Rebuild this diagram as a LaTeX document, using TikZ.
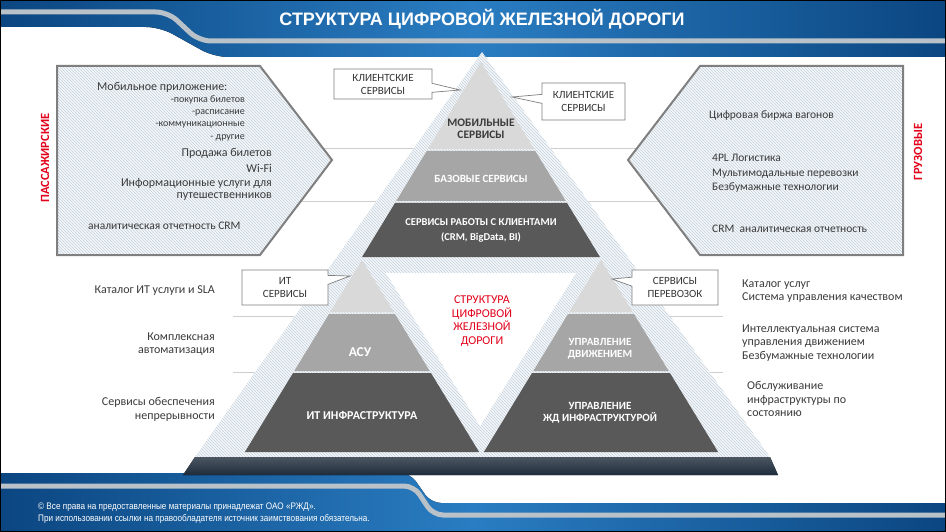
\documentclass[tikz,border=0pt]{standalone}
\usepackage{fontspec}
\setmainfont{Carlito}
\newfontfamily\titlefont{Liberation Sans}
\usetikzlibrary{patterns,shapes.callouts,positioning}

\definecolor{bandedge}{HTML}{0B4681}
\definecolor{bandmid}{HTML}{2A7DC2}
\definecolor{silver}{HTML}{B9C1C9}
\definecolor{tierlight}{HTML}{D9D9D9}
\definecolor{tiermid}{HTML}{A6A6A6}
\definecolor{tierdark}{HTML}{595959}
\definecolor{navy}{HTML}{1E2C3B}
\definecolor{hatchline}{HTML}{C3D0DD}
\definecolor{hatchbg}{HTML}{F6F8FA}
\definecolor{rulegrey}{HTML}{CFCFCF}
\definecolor{framegrey}{HTML}{7F7F7F}
\definecolor{inkgrey}{HTML}{3B3B3B}
\definecolor{tagred}{HTML}{E2001A}

\tikzset{
  hatched/.style = {preaction={fill=hatchbg},pattern=north west lines,pattern color=hatchline},
  body/.style    = {inner sep=0pt,text=inkgrey,font=\fontsize{12}{14}\selectfont},
  small/.style   = {inner sep=0pt,text=inkgrey,font=\fontsize{10}{12}\selectfont},
  side/.style    = {inner sep=0pt,text=inkgrey,font=\fontsize{12}{13.5}\selectfont},
  tier/.style    = {inner sep=0pt,text=white,align=center,font=\bfseries\fontsize{11}{12.5}\selectfont},
  sidetag/.style = {inner sep=0pt,text=tagred,rotate=90,font=\bfseries\fontsize{12.5}{14}\selectfont},
  callbox/.style = {rectangle callout,draw=framegrey,fill=white,line width=0.7pt,align=center,
                    inner sep=2pt,text=inkgrey!90!black,callout pointer width=9pt,
                    font=\fontsize{11}{13}\selectfont}
}

% apex x, apex y, top y, bottom y, colour
\newcommand{\tierband}[5]{%
  \fill[#5] ({#1-0.61*(#3-#2)},#3) -- ({#1+0.61*(#3-#2)},#3)
    -- ({#1+0.61*(#4-#2)},#4) -- ({#1-0.61*(#4-#2)},#4) -- cycle;}

\begin{document}
\begin{tikzpicture}[x=1pt,y=-1pt]
\useasboundingbox (0,0) rectangle (946,532);
\fill[white] (0,0) rectangle (946,532);

% guide rules
\draw[rulegrey,line width=0.8pt] (57,148) -- (903,148) (57,201) -- (903,201);
\draw[rulegrey,line width=0.8pt] (233,316) -- (723,316) (233,372) -- (723,372);

% header and footer bands
\fill[left color=bandedge,right color=bandedge,middle color=bandmid]
  (0,0) -- (946,0) -- (946,57) [rounded corners=14pt]-- (214,57) -- (160,27) [sharp corners]-- (0,27) -- cycle;
\draw[silver,line width=5pt,rounded corners=12pt] (0,12) -- (168,12) -- (199,41) -- (946,41);
\fill[left color=bandedge,right color=bandedge,middle color=bandmid]
  (0,532) -- (0,473) [rounded corners=10pt]-- (410,473) -- (431,503) [sharp corners]-- (946,503) -- (946,532) -- cycle;
\draw[silver,line width=5pt,rounded corners=10pt] (0,486) -- (414,486) -- (433,515) -- (946,515);
\node[text=white,font=\titlefont\bfseries\fontsize{18}{20}\selectfont] (title) at (482,19)
  {СТРУКТУРА ЦИФРОВОЙ ЖЕЛЕЗНОЙ ДОРОГИ};
\node[anchor=west,inner sep=0pt,text=white,font=\titlefont\fontsize{9.5}{10}\selectfont] (rights) at (38,507)
  {\scalebox{0.86}[1]{© Все права на предоставленные материалы принадлежат ОАО «РЖД».}};
\node[anchor=west,inner sep=0pt,text=white,font=\titlefont\fontsize{9.5}{10}\selectfont] (rights2) at (38,518.5)
  {\scalebox{0.86}[1]{При использовании ссылки на правообладателя источник заимствования обязательна.}};

% side arrows
\draw[hatched,draw=framegrey,line width=2pt] (57,66) -- (260,66) -- (332,160) -- (260,255) -- (57,255) -- cycle;
\draw[hatched,draw=framegrey,line width=2pt] (628,160) -- (700,66) -- (903,66) -- (903,255) -- (700,255) -- cycle;

% big triangle and pyramids
\fill[hatched] (482,52) -- (770,457) -- (195,457) -- cycle;
\tierband{481}{62}{62}{149}{tierlight}
\tierband{481}{62}{151}{201}{tiermid}
\tierband{481}{62}{203}{257}{tierdark}
\tierband{362}{260}{260}{312}{tierlight}
\tierband{362}{260}{314}{371}{tiermid}
\tierband{362}{260}{373}{452}{tierdark}
\tierband{601}{260}{260}{312}{tierlight}
\tierband{601}{260}{314}{371}{tiermid}
\tierband{601}{260}{373}{452}{tierdark}
\fill[white] (386,273) -- (576,273) -- (480,426) -- cycle;
\fill[top color=navy!80!white,bottom color=navy] (195,457) -- (770,457) -- (778,475) -- (183,475) -- cycle;

% callouts
\node[callbox,minimum width=98pt,minimum height=30pt,callout absolute pointer={(460,90)}] (klient1) at (383,84) {КЛИЕНТСКИЕ\\СЕРВИСЫ};
\node[callbox,minimum width=83pt,minimum height=37pt,callout absolute pointer={(512,97)}] (klient2) at (583.5,101.5) {КЛИЕНТСКИЕ\\СЕРВИСЫ};
\node[callbox,minimum width=86pt,minimum height=35pt,callout absolute pointer={(350,276)}] (itserv) at (285,287.5) {ИТ\\СЕРВИСЫ};
\node[callbox,minimum width=86pt,minimum height=35pt,callout absolute pointer={(612,279)}] (perevoz) at (675,287.5) {СЕРВИСЫ\\ПЕРЕВОЗОК};

% pyramid labels
\node[tier,text=inkgrey,font=\bfseries\fontsize{11.5}{12.5}\selectfont] (mobile) at (481,129) {МОБИЛЬНЫЕ\\СЕРВИСЫ};
\node[tier] (base) at (481,179) {БАЗОВЫЕ СЕРВИСЫ};
\node[tier,font=\bfseries\fontsize{10.5}{15}\selectfont] (clients) at (481,230) {СЕРВИСЫ РАБОТЫ С КЛИЕНТАМИ\\(CRM, BigData, BI)};
\node[tier,font=\bfseries\fontsize{13.5}{14}\selectfont] (asu) at (360,352) {АСУ};
\node[tier,font=\bfseries\fontsize{12}{13}\selectfont] (itinfra) at (362,415) {ИТ ИНФРАСТРУКТУРА};
\node[tier] (traffic) at (600,349) {УПРАВЛЕНИЕ\\ДВИЖЕНИЕМ};
\node[tier] (railinfra) at (600,413) {УПРАВЛЕНИЕ\\ЖД ИНФРАСТРУКТУРОЙ};
\node[inner sep=0pt,align=center,text=tagred,font=\fontsize{12}{13.7}\selectfont] (core) at (482,321)
  {СТРУКТУРА\\ЦИФРОВОЙ\\ЖЕЛЕЗНОЙ\\ДОРОГИ};

% passenger side
\node[sidetag] (pass) at (45,158) {ПАССАЖИРСКИЕ};
\node[body,anchor=west] (app) at (97,87) {Мобильное приложение:};
\node[small,anchor=east] (app1) at (245,100) {-покупка билетов};
\node[small,anchor=east] (app2) at (245,112.5) {-расписание};
\node[small,anchor=east] (app3) at (245,125) {-коммуникационные};
\node[small,anchor=east] (app4) at (245,138) {- другие};
\node[body,anchor=east] (tickets) at (272,153) {Продажа билетов};
\node[body,anchor=east] (wifi) at (272,168) {Wi-Fi};
\node[body,anchor=east] (info) at (272,183) {Информационные услуги для};
\node[body,anchor=east] (info2) at (272,197) {путешественников};
\node[body,anchor=west,font=\fontsize{11.5}{14}\selectfont] (crm1) at (88,226) {аналитическая отчетность CRM};

% freight side
\node[sidetag] (cargo) at (918,152) {ГРУЗОВЫЕ};
\node[body,anchor=west,font=\fontsize{11.5}{14}\selectfont] (wagons) at (709,116) {Цифровая биржа вагонов};
\node[body,anchor=west,align=left,font=\fontsize{11.5}{14.5}\selectfont] (logist) at (712,173.5)
  {4PL Логистика\\Мультимодальные перевозки\\Безбумажные технологии};
\node[body,anchor=west,font=\fontsize{11.5}{14}\selectfont] (crm2) at (712,229) {CRM\ \ аналитическая отчетность};

% lower rows
\node[side,anchor=east,align=right] (itcat) at (215,291) {Каталог ИТ услуги и SLA};
\node[side,anchor=east,align=right] (auto) at (215,344) {Комплексная\\автоматизация};
\node[side,anchor=east,align=right] (cont) at (215,409.5) {Сервисы обеспечения\\непрерывности};
\node[side,anchor=west,align=left] (quality) at (742,291) {Каталог услуг\\Система управления качеством};
\node[side,anchor=west,align=left] (intel) at (742,343) {Интеллектуальная система\\управления движением\\Безбумажные технологии};
\node[side,anchor=west,align=left] (maint) at (747,399) {Обслуживание\\инфраструктуры по\\состоянию};

\draw[black,line width=2pt] (0,0) rectangle (946,532);
\end{tikzpicture}
\end{document}
